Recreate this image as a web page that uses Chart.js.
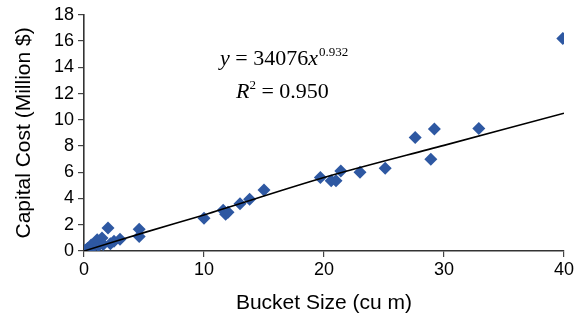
<!DOCTYPE html>
<html>
<head>
<meta charset="utf-8">
<script src="https://cdn.jsdelivr.net/npm/chart.js@4/dist/chart.umd.min.js"></script>
<style>
  html, body { margin: 0; padding: 0; background: #fff; }
  #wrap { width: 580px; height: 320px; }
</style>
</head>
<body>
<div id="wrap"><canvas id="capitalChart" width="580" height="320"></canvas></div>
<script>
// Bucket size (cu m) vs capital cost (million $)
const bucketSize = [0.1, 0.3, 0.5, 0.6, 0.8, 1.0, 1.1, 1.2, 1.5, 1.6, 2.0, 2.2, 2.5, 3.0, 4.6, 4.6,
    10.0, 11.6, 11.8, 12.0, 13.0, 13.8, 15.0, 19.7, 20.6, 21.0, 21.4, 23.0, 25.1,
    27.6, 28.9, 29.2, 32.9, 39.9];
const capitalCost = [0.05, 0.2, 0.25, 0.45, 0.35, 0.6, 0.85, 0.4, 1.0, 0.5, 1.75, 0.55, 0.75, 0.9, 1.65, 1.1,
    2.5, 3.1, 2.8, 2.95, 3.6, 3.95, 4.65, 5.6, 5.35, 5.35, 6.1, 6.0, 6.3,
    8.65, 7.0, 9.3, 9.33, 16.2];

// Trendline
const trendX = [0, 5, 10, 20, 30, 40];
const trendY = [0, 1.4, 2.75, 5.6, 8.05, 10.5];

const xTicks = [0, 10, 20, 30, 40];
const yTicks = [0, 2, 4, 6, 8, 10, 12, 14, 16, 18];

const equationText = { coef: 'y = 34076x', exp: '0.932', r2: '0.950' };

const sans = "'Liberation Sans', Arial, sans-serif";
const serif = "'Liberation Serif', 'Times New Roman', serif";

// Draw the regression equation in the plot
const equationPlugin = {
    id: 'equation',
    afterDraw(chart) {
        const ctx = chart.ctx;
        ctx.save();
        ctx.fillStyle = '#000';
        ctx.textBaseline = 'alphabetic';

        // line 1: y = 34076x^0.932
        let x = 220, y = 65;
        const parts = [
            ['italic 22px ' + serif, 'y'],
            ['22px ' + serif, ' = 34076'],
            ['italic 22px ' + serif, 'x']
        ];
        parts.forEach(([f, t]) => {
            ctx.font = f;
            ctx.fillText(t, x, y);
            x += ctx.measureText(t).width;
        });
        ctx.font = '13px ' + serif;
        ctx.fillText(equationText.exp, x + 1, y - 9);

        // line 2: R² = 0.950
        x = 236; y = 98;
        ctx.font = 'italic 22px ' + serif;
        ctx.fillText('R', x, y);
        x += ctx.measureText('R').width;
        ctx.font = '13px ' + serif;
        ctx.fillText('2', x, y - 9);
        x += ctx.measureText('2').width;
        ctx.font = '22px ' + serif;
        ctx.fillText(' = ' + equationText.r2, x, y);
        ctx.restore();
    }
};

const ctx = document.getElementById('capitalChart');

new Chart(ctx, {
    type: 'scatter',
    data: {
        datasets: [{
            label: 'Capital Cost',
            data: bucketSize.map((v, i) => ({ x: v, y: capitalCost[i] })),
            pointStyle: 'rectRot',
            pointRadius: 6.5,
            backgroundColor: '#2E58A2',
            borderColor: '#2E58A2',
            borderWidth: 0,
            order: 2
        }, {
            type: 'line',
            label: 'Trend',
            data: trendX.map((v, i) => ({ x: v, y: trendY[i] })),
            borderColor: '#000',
            borderWidth: 1.6,
            pointRadius: 0,
            fill: false,
            tension: 0.3,
            order: 1
        }]
    },
    options: {
        responsive: false,
        animation: false,
        devicePixelRatio: 1,
        layout: {
            padding: { left: 0, right: 16, top: 14, bottom: 4 }
        },
        plugins: {
            legend: { display: false },
            tooltip: { enabled: false }
        },
        scales: {
            x: {
                type: 'linear',
                min: 0,
                max: 40,
                afterBuildTicks: s => { s.ticks = xTicks.map(v => ({ value: v })); },
                afterFit: s => { s.height = 65; },
                grid: {
                    drawOnChartArea: false,
                    drawTicks: true,
                    tickLength: 6,
                    color: '#444',
                    lineWidth: 1.2
                },
                border: { display: true, color: '#333', width: 1.6 },
                ticks: {
                    color: '#000',
                    padding: 2,
                    font: { family: sans, size: 18 }
                },
                title: {
                    display: true,
                    text: 'Bucket Size (cu m)',
                    color: '#000',
                    font: { family: sans, size: 21 },
                    padding: { top: 4, bottom: 0 }
                }
            },
            y: {
                min: 0,
                max: 18,
                afterBuildTicks: s => { s.ticks = yTicks.map(v => ({ value: v })); },
                afterFit: s => { s.width = 84; },
                grid: {
                    drawOnChartArea: false,
                    drawTicks: true,
                    tickLength: 6,
                    color: '#444',
                    lineWidth: 1.2
                },
                border: { display: true, color: '#333', width: 1.6 },
                ticks: {
                    color: '#000',
                    padding: 4,
                    font: { family: sans, size: 18 }
                },
                title: {
                    display: true,
                    text: 'Capital Cost (Million $)',
                    color: '#000',
                    font: { family: sans, size: 21 },
                    padding: { top: 12, bottom: 0 }
                }
            }
        }
    },
    plugins: [equationPlugin]
});
</script>
</body>
</html>
